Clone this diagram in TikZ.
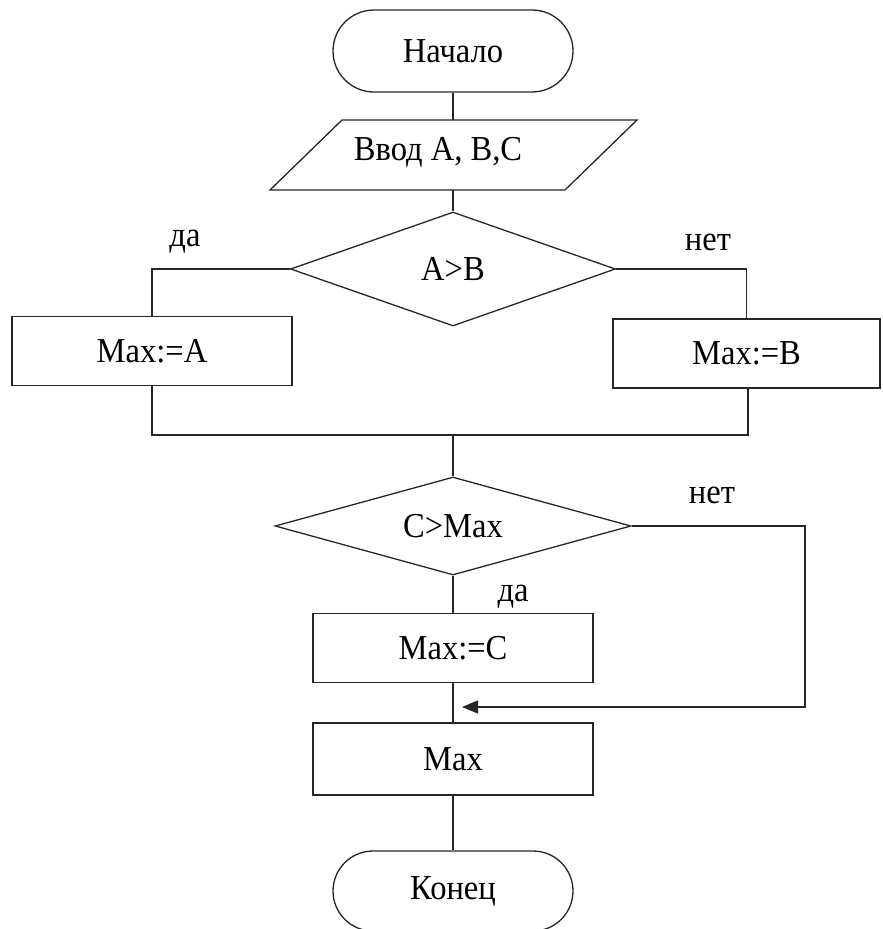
\documentclass[tikz,border=0pt]{standalone}
\usepackage{fontspec}
\setmainfont[FakeStretch=0.93]{Liberation Serif}
\usetikzlibrary{shapes.geometric,arrows.meta}
\begin{document}
\begin{tikzpicture}[x=1pt,y=-1pt,
  every node/.style={font=\fontsize{35}{38}\selectfont},
  ln/.style={line width=1.3pt,draw=black!85},
  term/.style={ln,rectangle,rounded corners=41pt,minimum width=240pt,minimum height=82pt,inner sep=0pt},
  proc/.style={ln,rectangle,minimum width=280pt,minimum height=69pt,inner sep=0pt},
  cond/.style={ln,diamond,inner sep=0pt,aspect=3,minimum width=325pt,minimum height=114pt},
  lbl/.style={inner sep=0pt}]
  \useasboundingbox (0,0) rectangle (883,929);

  % start / input
  \node[term] (start) at (453,51) {Начало};
  \draw[ln] (342,120) -- (637,120) -- (565,190) -- (270,190) -- cycle;
  \node[lbl] (input) at (438,152) {Ввод А, В,С};
  \coordinate (inTop) at (453,120);
  \coordinate (inBot) at (453,190);
  \draw[ln] (start.south) -- (inTop);

  % first decision
  \node[cond] (ab) at (453,269) {A>B};
  \draw[ln] (inBot) -- (ab.north);
  \node[proc] (maxa) at (152,351) {Max:=A};
  \node[proc, minimum width=267pt] (maxb) at (746.5,353.5) {Max:=B};
  \draw[ln] (ab.west) -| (maxa.north);
  \draw[ln] (ab.east) -| (maxb.north);
  \node[lbl] (yes1) at (185,242) {да};
  \node[lbl] (no1) at (708,242) {нет};

  % merge
  \coordinate (mergeL) at (152,435);
  \coordinate (mergeR) at (748,435);
  \coordinate (mergeC) at (453,435);
  \draw[ln] (maxa.south) -- (mergeL) -- (mergeR) -- (maxb.south -| mergeR);

  % second decision
  \node[cond, aspect=3.6, minimum width=356pt, minimum height=98pt] (cm) at (453,526) {C>Max};
  \draw[ln] (mergeC) -- (cm.north);
  \node[proc] (maxc) at (453,648) {Max:=C};
  \draw[ln] (cm.south) -- (maxc.north);
  \node[lbl] (yes2) at (513,597) {да};
  \node[lbl] (no2) at (712,495) {нет};

  % output
  \node[proc, minimum height=72pt] (out) at (453,759) {Max};
  \coordinate (joinPt) at (453,707);
  \coordinate (turn) at (805,707);
  \draw[ln] (maxc.south) -- (out.north);
  \draw[ln,-{Triangle[length=16pt,width=13pt]}] (cm.east) -| (turn) -- ([xshift=9pt]joinPt);

  % end
  \node[term, minimum height=80pt, rounded corners=40pt] (stop) at (453,891) {Конец};
  \draw[ln] (out.south) -- (stop.north);
\end{tikzpicture}
\end{document}
